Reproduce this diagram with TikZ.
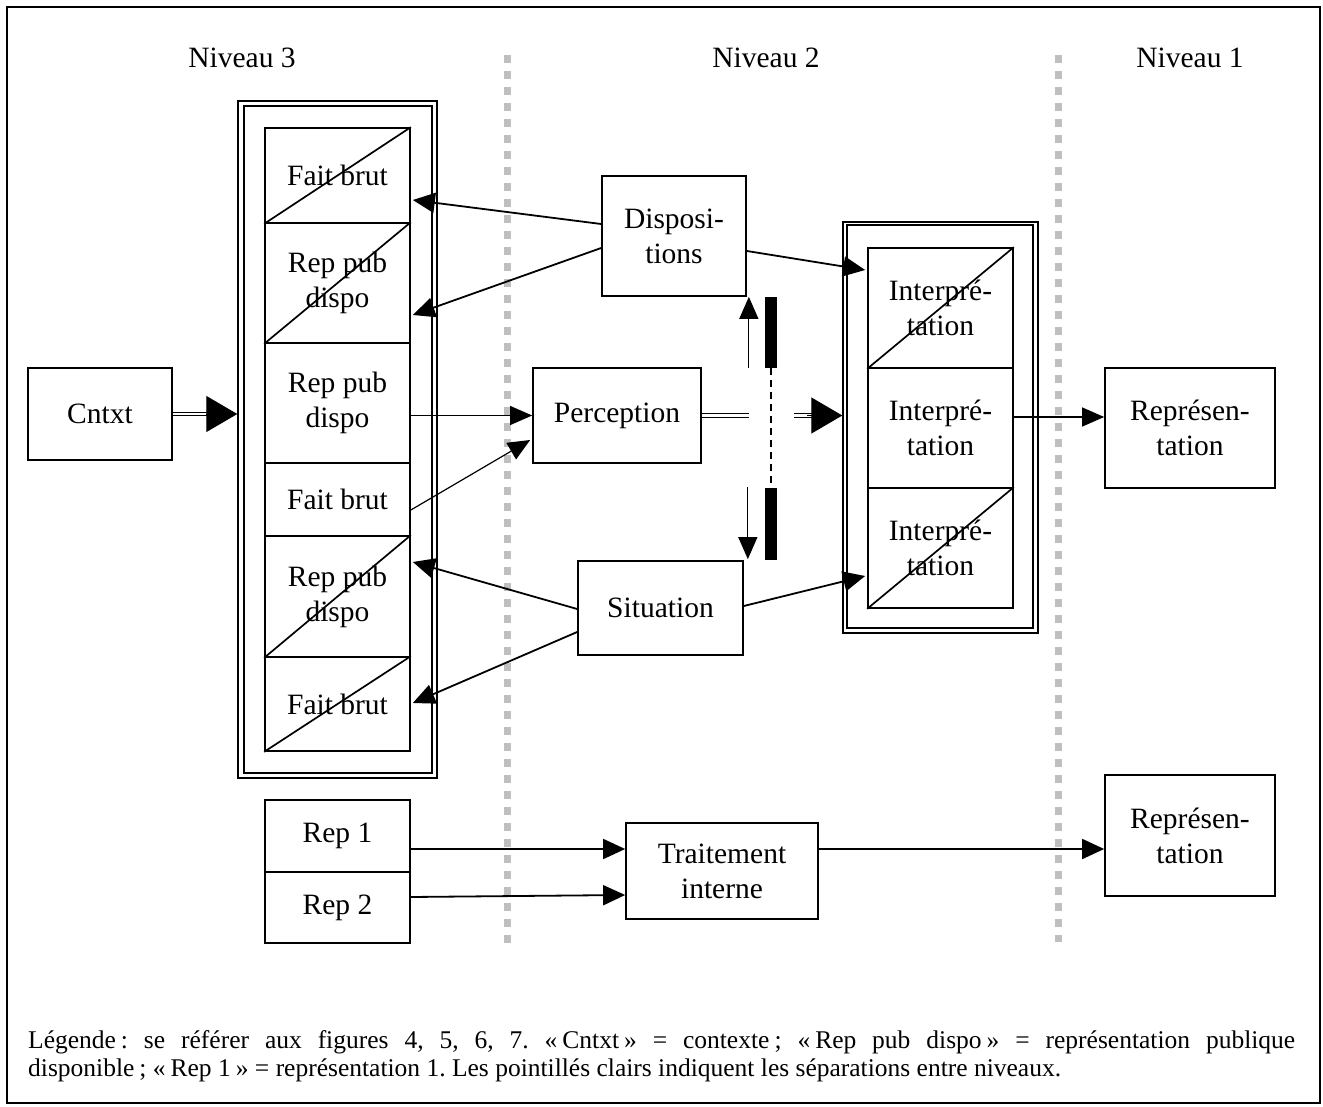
\documentclass[tikz,border=0pt]{standalone}
\usepackage{fontspec}
\setmainfont{Liberation Serif}
\usetikzlibrary{arrows.meta,calc}
\newcommand{\gs}{\kern5pt\relax}
\frenchspacing
\begin{document}
\begin{tikzpicture}[x=1pt,y=-1pt,
  box/.style={draw, line width=1.7pt, inner sep=0pt, align=center, font=\fontsize{29.5}{35}\selectfont},
  frame/.style={draw, line width=1.4pt, inner sep=0pt},
  cross/.style={line width=1.7pt},
  arr/.style={line width=1.8pt, -{Triangle[length=22pt,width=20pt]}},
  thinarr/.style={line width=1.2pt, -{Triangle[length=22pt,width=19pt]}},
  dbl/.style={double, line width=1.1pt, double distance=2.6pt},
  bighead/.style={line width=1pt, -{Triangle[length=31pt,width=36pt]}},
  lvl/.style={inner sep=0pt, font=\fontsize{29.5}{35}\selectfont},
  sep/.style={line width=7pt, black!25, dash pattern=on 8pt off 8pt}
]
\useasboundingbox (0,0) rectangle (1323,1107);
\draw[line width=2pt] (7,7) rectangle (1320,1103);

% level labels
\node[lvl] (n3) at (242,58) {Niveau 3};
\node[lvl] (n2) at (766,58) {Niveau 2};
\node[lvl] (n1) at (1190,58) {Niveau 1};

% separators
\draw[sep] (507,55) -- (507,945);
\draw[sep] (1058,55) -- (1058,942);

% left column frame
\node[frame, minimum width=199pt, minimum height=677pt] (L) at (337.5,439.5) {};
\node[frame, minimum width=188pt, minimum height=667pt] (Li) at (338,439.5) {};
% left column boxes
\node[box, minimum width=145pt, minimum height=95pt] (lb1) at (337.5,175.5) {Fait brut};
\node[box, minimum width=145pt, minimum height=120pt] (lb2) at (337.5,283) {Rep pub\\dispo};
\node[box, minimum width=145pt, minimum height=120pt] (lb3) at (337.5,403) {Rep pub\\dispo};
\node[box, minimum width=145pt, minimum height=73pt] (lb4) at (337.5,499.5) {Fait brut};
\node[box, minimum width=145pt, minimum height=121pt] (lb5) at (337.5,596.5) {Rep pub\\dispo};
\node[box, minimum width=145pt, minimum height=94pt] (lb6) at (337.5,704) {Fait brut};
\foreach \b in {lb1,lb2,lb5,lb6} \draw[cross] (\b.south west) -- (\b.north east);

% right column frame
\node[frame, minimum width=195pt, minimum height=411pt] (R) at (940.5,427.5) {};
\node[frame, minimum width=186pt, minimum height=403pt] (Ri) at (940,426.5) {};
\node[box, minimum width=145pt, minimum height=120pt] (rb1) at (940.5,308) {Interpré-\\tation};
\node[box, minimum width=145pt, minimum height=120pt] (rb2) at (940.5,428) {Interpré-\\tation};
\node[box, minimum width=145pt, minimum height=120pt] (rb3) at (940.5,548) {Interpré-\\tation};
\foreach \b in {rb1,rb3} \draw[cross] (\b.south west) -- (\b.north east);

% other boxes
\node[box, minimum width=144pt, minimum height=92pt] (cntxt) at (100,414) {Cntxt};
\node[box, minimum width=144pt, minimum height=120pt] (disp) at (674,236) {Disposi-\\tions};
\node[box, minimum width=168pt, minimum height=95pt] (perc) at (617,415.5) {Perception};
\node[box, minimum width=165pt, minimum height=94pt] (sit) at (660.5,608) {Situation};
\node[box, minimum width=170pt, minimum height=120pt] (repA) at (1190,428) {Représen-\\tation};
\node[box, minimum width=145pt, minimum height=72pt] (r1) at (337.5,836) {Rep 1};
\node[box, minimum width=145pt, minimum height=71pt] (r2) at (337.5,907.5) {Rep 2};
\node[box, minimum width=192pt, minimum height=96pt] (trait) at (722,871) {Traitement\\interne};
\node[box, minimum width=170pt, minimum height=121pt] (repB) at (1190,835.5) {Représen-\\tation};

% Cntxt double arrow
\draw[dbl] (cntxt.east) -- ($(L.west|-cntxt.east)+(-26,0)$) coordinate (c1);
\draw[bighead] ($(c1)+(-5,0)$) -- (L.west|-cntxt.east);

% Dispositions arrows
\draw[arr] ($(disp.west)+(0,-12)$) -- ($(lb1.east)+(2,24.5)$);
\draw[arr] ($(disp.west)+(0,12)$) -- ($(lb2.east)+(2,32)$);
\draw[arr] ($(disp.east)+(0,15)$) -- ($(rb1.west)+(-2,-38)$);

% Situation arrows
\draw[arr] ($(sit.west)+(0,1)$) -- ($(lb5.east)+(2,-34.5)$);
\draw[arr] ($(sit.west)+(0,24)$) -- ($(lb6.east)+(2,-1)$);
\draw[arr] ($(sit.east)+(0,-2)$) -- ($(rb3.west)+(-2,28)$);

% Perception arrows
\draw[thinarr] (lb3.east|-perc.west) -- (perc.west);
\draw[thinarr] ($(lb4.east)+(0,10.5)$) -- ($(perc.west)+(-2,24.5)$);

% Perception double line and blocked path
\draw[dbl] (perc.east) -- ++(47,0) coordinate (p1);
\coordinate (gapend) at ($(R.west|-perc.east)+(-48,0)$);
\draw[dbl] (gapend) -- ++(20,0);
\draw[bighead] ($(gapend)+(13,0)$) -- (R.west|-perc.east);
\draw[line width=1.5pt, dash pattern=on 7pt off 5pt] (771,368) -- (771,488);
\fill (765,297) rectangle (777,368);
\fill (765,488) rectangle (777,560);
\draw[thinarr] ($(disp.south east)+(2,71)$) -- ($(disp.south east)+(2,0)$);
\draw[thinarr] ($(sit.north east)+(4,-73)$) -- ($(sit.north east)+(4,-1)$);

% Interpretation to representation
\draw[thinarr] ($(rb2.east)+(0,-11)$) -- ($(repA.west)+(0,-11)$);

% bottom row
\draw[arr] ($(r1.east)+(0,13)$) -- ($(trait.west)+(0,-22)$);
\draw[arr] ($(r2.east)+(0,-10.5)$) -- ($(trait.west)+(0,24)$);
\draw[arr] ($(trait.east)+(0,-22)$) -- (repB.west|-{$(trait.east)+(0,-22)$});

% legend
\node[anchor=base west, inner sep=0pt, font=\fontsize{25.5}{28}\selectfont] (leg1) at (28,1048)
  {\makebox[1267pt][s]{Légende\gs: se référer aux figures 4, 5, 6, 7. «\gs Cntxt\gs» = contexte\gs; «\gs Rep pub dispo\gs» = représentation publique}};
\node[anchor=base west, inner sep=0pt, font=\fontsize{25.5}{28}\selectfont] (leg2) at (28,1076)
  {disponible\gs; «\gs Rep 1\gs» = représentation 1. Les pointillés clairs indiquent les séparations entre niveaux.};
\end{tikzpicture}
\end{document}
